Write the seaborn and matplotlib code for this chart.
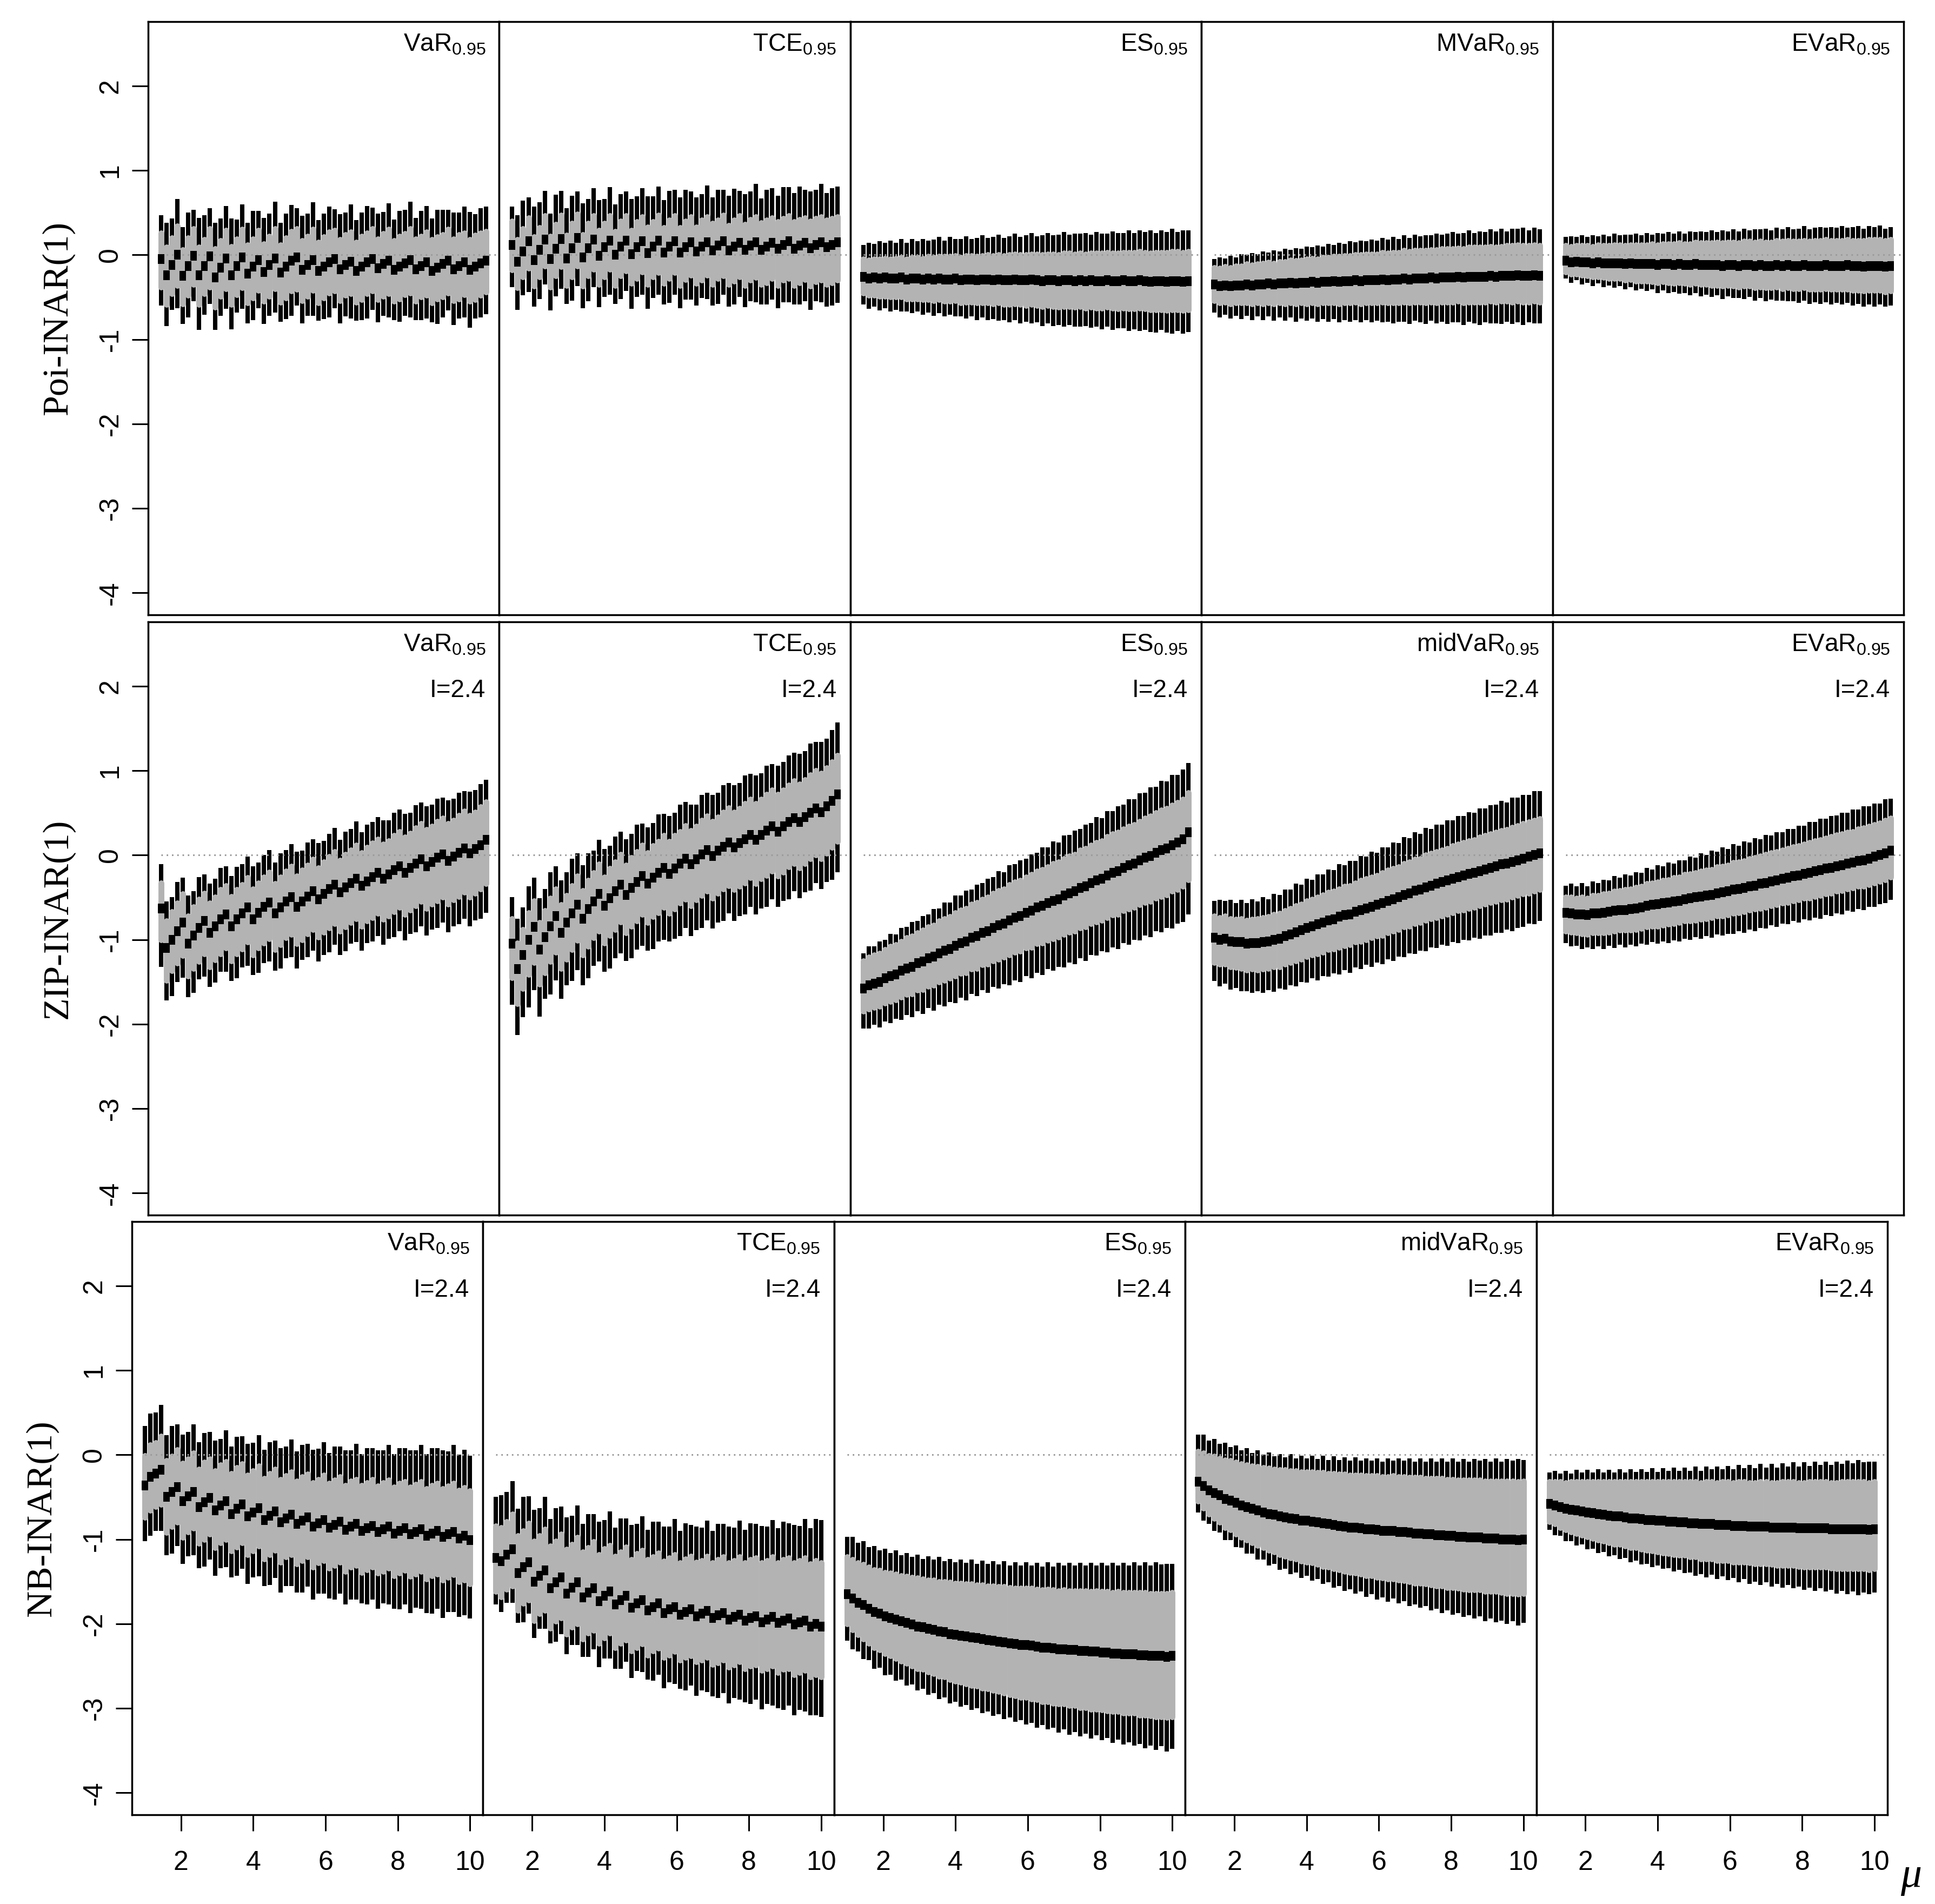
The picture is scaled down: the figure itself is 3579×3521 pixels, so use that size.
import numpy as np
import seaborn as sns
import matplotlib
matplotlib.use("Agg")
from matplotlib import pyplot as plt

# grid of mu values (x axis of every panel)
MU = [1.00, 1.15, 1.30, 1.45, 1.60, 1.75, 1.90, 2.05, 2.20, 2.35,
      2.50, 2.65, 2.80, 2.95, 3.10, 3.25, 3.40, 3.55, 3.70, 3.85,
      4.00, 4.15, 4.30, 4.45, 4.60, 4.75, 4.90, 5.05, 5.20, 5.35,
      5.50, 5.65, 5.80, 5.95, 6.10, 6.25, 6.40, 6.55, 6.70, 6.85,
      7.00, 7.15, 7.30, 7.45, 7.60, 7.75, 7.90, 8.05, 8.20, 8.35,
      8.50, 8.65, 8.80, 8.95, 9.10, 9.25, 9.40, 9.55, 9.70, 9.85,
      10.00]

# all values in units of 0.01
# *_med: median; *_bu / *_bd: median to upper / lower box edge;
# *_wu / *_wd: median to upper / lower whisker end

# ---- Poi-INAR(1) ----
pv_med = [-5,-24,-12,0,-25,-13,-1,-24,-13,-2,-27,-15,-4,-24,-13,-3,-22,-14,-6,-20,-12,-4,-21,-14,-7,-3,-18,-12,-6,-19,-14,-9,-5,-17,-12,-8,-19,-14,-9,-5,-16,-11,-7,-18,-14,-10,-6,-17,-13,-9,-19,-15,-11,-7,-17,-13,-9,-18,-14,-10,-7]
pv_bu = [31,33,32,34,31,33,32,33,31,33,34,32,33,34,32,33,34,33,35,33,34,35,33,34,35,34,35,34,36,34,35,36,34,35,36,35,34,36,35,36,35,36,37,35,36,35,37,36,35,36,37,36,35,37,36,37,35,36,37,36,35]
pv_bd = [33,35,34,36,33,35,34,35,33,36,35,34,36,35,34,36,35,37,36,35,37,36,35,37,36,38,36,37,36,38,37,36,38,37,36,38,37,39,37,38,37,38,39,37,38,37,39,38,37,39,38,37,39,38,37,39,38,37,39,38,37]
pv_wu = [52,62,55,66,58,63,54,68,60,57,65,58,62,67,55,63,60,66,58,64,61,67,59,63,66,58,64,61,68,60,63,66,59,65,62,68,60,64,67,61,65,62,68,60,66,63,69,61,65,67,62,68,64,60,67,63,66,69,62,65,64]
pv_wd = [55,60,53,63,57,61,54,65,58,56,62,57,60,64,55,61,59,63,57,62,60,64,58,62,65,57,63,60,66,59,62,65,58,64,61,67,59,63,66,60,64,61,67,59,65,62,68,60,64,66,61,67,63,59,66,62,65,68,61,64,63]

pt_med = [12,-8,4,16,-6,6,18,-5,7,19,-4,8,20,-3,8,18,-1,9,17,0,10,17,1,9,16,2,10,17,3,10,16,3,9,15,4,10,15,5,11,16,5,10,14,6,11,15,6,10,14,7,12,16,7,11,14,8,12,15,9,12,15]
pt_bu = [28,26,27,28,27,26,28,27,29,28,27,29,28,27,29,28,30,28,29,28,30,29,28,30,29,31,29,30,29,31,30,29,31,30,29,31,30,32,30,31,30,31,32,30,31,30,32,31,30,32,31,30,32,31,30,32,31,30,32,31,30]
pt_bd = [30,31,30,32,31,32,31,33,32,33,32,34,33,34,33,35,34,35,34,36,35,36,35,37,36,37,36,38,37,38,37,39,38,39,38,40,39,40,39,41,40,41,40,42,41,42,41,43,42,43,42,44,43,44,43,45,44,45,44,45,45]
pt_wu = [45,55,60,52,63,56,58,54,64,57,59,62,55,64,58,61,66,57,63,60,62,58,65,60,63,67,59,64,62,66,61,65,68,60,64,62,67,63,66,61,65,68,62,66,64,69,61,67,65,63,68,64,66,70,63,67,65,69,64,67,66]
pt_wd = [50,57,52,60,55,58,53,61,56,59,54,62,57,60,63,56,61,59,64,58,62,60,65,59,63,66,61,64,62,67,63,66,62,68,64,61,67,65,69,63,66,69,64,68,66,71,65,69,67,70,68,72,66,70,69,73,67,71,70,72,72]

pe_med = [-26,-28,-27,-28,-27,-28,-28,-27,-29,-28,-28,-29,-28,-29,-28,-29,-29,-28,-30,-29,-29,-30,-29,-29,-30,-29,-30,-30,-29,-30,-30,-29,-30,-31,-30,-30,-31,-30,-30,-31,-30,-31,-30,-31,-31,-30,-31,-31,-30,-31,-31,-30,-31,-32,-31,-31,-32,-31,-31,-32,-31]
pe_bu = [21,22,22,23,23,23,24,24,24,25,25,25,26,26,26,27,27,27,27,28,28,28,28,29,29,29,29,30,30,30,30,30,31,31,31,31,31,32,32,32,32,32,32,33,33,33,33,33,33,34,34,34,34,34,34,34,35,35,35,35,35]
pe_bd = [19,20,21,21,22,22,22,23,23,24,24,24,25,25,25,26,26,26,27,27,27,27,28,28,28,28,29,29,29,29,30,30,30,30,30,31,31,31,31,31,31,32,32,32,32,32,32,33,33,33,33,33,33,33,34,34,34,34,34,34,34]
pe_wu = [38,42,40,44,41,45,42,46,43,47,44,48,45,47,49,46,50,47,49,51,48,50,52,49,51,53,50,52,54,51,53,55,52,54,56,53,55,57,54,56,55,57,54,58,56,55,59,57,56,60,57,59,58,61,57,60,59,62,58,61,60]
pe_wd = [33,36,34,38,36,39,37,40,38,41,39,42,40,43,41,44,42,45,43,46,44,47,45,48,46,49,47,50,48,51,49,52,50,53,51,54,52,55,53,54,55,53,56,54,57,55,58,56,57,59,57,60,58,59,61,58,60,62,59,61,60]

pm_med = [-35,-37,-36,-37,-36,-36,-35,-36,-35,-35,-34,-35,-34,-34,-33,-34,-33,-33,-32,-33,-32,-32,-31,-32,-31,-31,-30,-31,-30,-30,-30,-29,-30,-29,-29,-28,-29,-28,-28,-28,-27,-28,-27,-27,-27,-26,-27,-26,-26,-26,-26,-25,-26,-25,-25,-25,-24,-25,-25,-24,-25]
pm_bu = [20,21,22,22,23,23,24,24,24,25,25,25,26,26,27,27,27,28,28,28,29,29,29,30,30,30,30,31,31,31,31,32,32,32,32,33,33,33,33,33,33,34,34,34,34,34,34,35,35,35,35,35,35,35,36,36,36,36,36,36,36]
pm_bd = [19,20,20,21,21,21,22,22,22,23,23,23,23,24,24,24,24,25,25,25,25,25,26,26,26,26,26,27,27,27,27,27,27,28,28,28,28,28,28,29,29,29,29,29,29,29,30,30,30,30,30,30,30,30,30,31,31,31,31,31,31]
pm_wu = [30,34,32,36,33,37,35,38,36,39,37,40,38,41,39,42,40,43,41,44,42,45,43,46,44,47,45,48,46,48,47,49,48,50,48,51,49,52,50,51,50,53,51,52,54,51,53,55,52,54,53,55,54,56,53,56,55,57,54,56,55]
pm_wd = [33,37,35,38,36,40,37,41,38,42,39,43,40,44,41,45,42,45,43,46,44,47,45,48,46,48,47,49,47,50,48,51,49,52,50,51,53,50,52,54,51,53,52,55,53,54,56,53,55,57,54,56,55,57,54,57,56,58,55,57,56]

pev_med = [-7,-9,-8,-9,-9,-10,-9,-10,-10,-10,-10,-11,-10,-11,-11,-11,-11,-12,-11,-11,-12,-11,-12,-12,-11,-12,-12,-12,-12,-13,-12,-12,-13,-12,-12,-13,-12,-13,-13,-12,-13,-12,-13,-13,-12,-13,-13,-13,-12,-13,-13,-13,-12,-13,-13,-14,-13,-13,-13,-14,-13]
pev_bu = [18,19,19,20,20,20,21,21,21,22,22,22,22,23,23,23,24,24,24,24,25,25,25,25,26,26,26,26,27,27,27,27,27,28,28,28,28,28,28,29,29,29,29,29,29,29,30,30,30,30,30,30,30,30,30,31,31,31,31,31,31]
pev_bd = [13,14,15,15,16,16,17,17,18,18,18,19,19,20,20,20,21,21,21,22,22,22,22,23,23,23,23,24,24,24,24,25,25,25,25,26,26,26,26,26,27,27,27,27,27,28,28,28,28,28,28,28,29,29,29,29,29,29,29,30,30]
pev_wu = [28,31,29,32,30,33,31,34,32,35,33,35,34,36,34,37,35,38,36,38,37,39,37,40,38,40,39,41,39,42,40,42,41,43,41,43,42,44,42,44,43,45,43,44,46,43,45,46,44,46,45,47,44,46,47,45,47,46,48,45,46]
pev_wd = [21,24,22,26,24,27,25,28,26,29,27,30,28,31,29,32,30,33,31,34,32,35,33,36,34,37,35,38,36,39,37,39,38,40,38,41,39,42,40,42,41,43,42,44,42,45,43,45,44,46,44,46,45,47,45,47,46,48,46,47,47]

# ---- ZIP-INAR(1) ----
zv_med = [-63,-110,-100,-90,-80,-105,-95,-86,-78,-92,-84,-76,-70,-84,-76,-69,-62,-76,-68,-61,-56,-69,-62,-55,-50,-61,-55,-49,-43,-52,-46,-40,-35,-44,-38,-33,-28,-36,-31,-26,-21,-28,-23,-18,-13,-21,-15,-10,-5,-13,-8,-3,1,-7,-2,3,8,2,7,12,18]
zv_bu = [30,32,33,33,34,33,34,34,33,35,34,35,34,35,35,34,35,36,35,35,36,35,36,36,37,36,37,37,38,37,38,38,39,38,39,39,40,39,40,40,40,41,40,41,41,42,41,42,42,43,42,43,43,44,43,44,44,45,44,45,45]
zv_bd = [37,38,37,38,39,38,39,40,39,40,40,41,40,41,41,42,41,42,42,43,43,43,44,43,44,44,45,44,45,45,45,46,46,46,47,47,47,48,47,48,48,48,49,49,49,49,50,50,50,50,50,51,51,51,51,52,52,52,52,52,52]
zv_wu = [52,55,50,58,53,57,52,60,55,58,56,61,57,59,62,58,60,63,59,61,62,60,64,61,63,65,60,64,62,66,63,65,67,62,66,64,68,63,67,65,66,69,64,68,67,70,65,69,67,71,68,70,67,72,69,71,68,73,70,72,71]
zv_wd = [69,62,67,60,65,63,68,61,66,64,67,62,68,65,70,64,69,66,71,67,70,68,72,67,71,73,69,72,70,74,72,75,71,74,76,72,75,77,73,76,75,78,76,79,77,80,78,81,79,82,80,83,81,84,82,85,83,86,84,87,86]

zt_med = [-105,-135,-118,-100,-85,-112,-97,-84,-72,-92,-80,-69,-59,-75,-64,-55,-46,-60,-51,-43,-35,-47,-39,-32,-25,-34,-27,-21,-15,-22,-16,-10,-4,-11,-5,1,6,-1,5,10,15,9,14,19,24,18,24,29,34,28,34,39,44,39,45,50,55,51,58,64,72]
zt_bu = [30,31,30,32,31,32,31,33,32,33,32,33,34,33,34,34,35,34,35,35,36,35,36,36,37,37,38,37,38,38,39,38,39,40,39,40,40,41,40,41,41,42,41,42,42,43,42,43,43,44,43,44,44,45,44,45,45,46,45,46,46]
zt_bd = [40,41,40,41,42,41,42,42,43,42,43,43,42,43,44,43,44,44,44,45,44,45,45,46,45,46,46,47,47,47,48,47,48,49,48,49,49,50,50,50,51,50,51,52,51,52,52,53,53,53,54,53,54,54,55,54,55,55,56,55,56]
zt_wu = [55,60,56,63,58,61,57,64,59,62,60,65,61,63,66,60,64,67,62,65,63,66,64,68,62,67,65,69,64,68,66,70,67,71,65,70,68,72,69,73,70,74,71,75,72,76,73,77,74,78,76,79,77,81,78,82,79,83,80,84,85]
zt_wd = [72,78,74,80,75,79,73,81,76,78,74,80,77,79,82,76,80,78,83,79,81,78,83,80,82,79,84,81,85,80,83,86,82,85,84,87,83,86,85,88,84,87,86,89,85,88,87,90,86,89,88,91,87,90,89,92,88,91,90,93,92]

ze_med = [-158,-154,-152,-150,-146,-143,-141,-137,-134,-132,-128,-126,-122,-120,-116,-113,-111,-107,-104,-102,-98,-96,-92,-90,-86,-83,-81,-77,-74,-72,-68,-66,-62,-60,-57,-54,-52,-48,-45,-43,-39,-37,-33,-30,-28,-24,-21,-19,-15,-12,-10,-6,-3,-1,3,6,8,12,15,19,27]
ze_bu = [33,33,34,34,34,35,35,35,36,36,36,37,37,37,38,38,38,39,39,39,40,40,40,40,41,41,41,42,42,42,42,43,43,43,43,44,44,44,44,44,45,45,45,45,45,46,46,46,46,46,46,46,47,47,47,47,47,47,47,47,47]
ze_bd = [27,28,28,29,29,30,30,31,31,32,32,33,33,34,34,35,35,36,36,37,37,38,38,39,39,40,40,41,41,42,42,43,43,44,44,45,45,46,46,47,47,48,48,49,49,50,50,51,51,52,52,53,53,54,54,55,55,55,56,56,56]
ze_wu = [42,46,44,48,46,50,47,51,49,53,50,54,52,56,53,57,55,59,56,60,57,61,59,62,60,64,61,65,63,66,64,67,65,69,66,70,67,71,69,72,70,73,71,75,72,76,73,77,75,78,76,79,77,81,78,82,79,83,80,82,82]
ze_wd = [47,51,49,54,51,56,53,58,55,60,57,62,59,64,61,66,63,68,65,70,66,71,68,73,70,75,72,77,74,78,75,80,77,82,78,83,80,85,82,86,83,88,85,89,86,91,88,92,89,94,90,95,92,96,93,97,94,99,96,98,97]

zm_med = [-98,-100,-99,-102,-103,-103,-105,-104,-104,-103,-102,-100,-99,-96,-94,-91,-89,-86,-84,-82,-80,-77,-76,-73,-71,-70,-67,-65,-63,-61,-59,-57,-54,-52,-50,-47,-45,-42,-41,-38,-36,-34,-32,-30,-28,-26,-24,-22,-21,-19,-17,-15,-13,-11,-10,-8,-6,-4,-2,0,2]
zm_bu = [26,26,27,27,27,28,28,28,29,29,29,30,30,30,31,31,31,32,32,32,33,33,33,33,34,34,34,35,35,35,35,36,36,36,36,37,37,37,37,38,38,38,38,38,39,39,39,39,39,40,40,40,40,40,40,41,41,41,41,41,41]
zm_bd = [29,29,30,30,30,31,31,31,32,32,32,32,33,33,33,34,34,34,34,35,35,35,35,36,36,36,36,37,37,37,37,38,38,38,38,38,39,39,39,39,39,40,40,40,40,40,41,41,41,41,41,41,42,42,42,42,42,42,43,43,43]
zm_wu = [44,47,45,49,46,50,48,52,49,53,50,54,52,55,53,57,54,58,55,59,57,60,58,62,59,63,60,64,61,65,62,66,63,67,64,68,65,69,66,70,67,70,68,71,69,72,70,73,71,74,72,74,73,75,72,76,74,75,73,76,74]
zm_wd = [51,55,53,57,54,58,56,59,57,60,58,62,59,63,60,64,61,65,62,66,63,67,64,68,65,69,66,70,67,71,68,72,69,73,70,74,71,75,72,76,73,76,74,77,75,78,76,79,77,80,78,80,79,81,78,82,80,81,79,82,80]

zev_med = [-68,-69,-70,-70,-71,-69,-69,-68,-67,-66,-65,-65,-64,-63,-62,-60,-59,-58,-57,-56,-55,-54,-52,-51,-50,-49,-48,-47,-45,-44,-43,-41,-40,-39,-37,-36,-34,-33,-31,-30,-28,-27,-25,-24,-22,-21,-19,-18,-16,-15,-13,-12,-10,-9,-7,-6,-4,-2,0,2,5]
zev_bu = [18,19,19,20,20,21,21,22,22,23,23,24,24,25,25,26,26,26,27,27,28,28,29,29,29,30,30,30,31,31,31,32,32,32,33,33,33,34,34,34,34,35,35,35,35,36,36,36,36,37,37,37,37,37,38,38,38,38,38,39,39]
zev_bd = [22,22,22,23,23,23,23,24,24,24,24,24,25,25,25,25,25,26,26,26,26,26,26,27,27,27,27,27,27,28,28,28,28,28,28,28,29,29,29,29,29,29,29,29,29,30,30,30,30,30,30,30,30,30,30,31,31,31,31,31,31]
zev_wu = [32,35,33,37,34,38,36,39,37,41,38,42,40,43,41,45,42,46,44,47,45,48,46,49,47,51,48,52,49,53,50,54,51,55,52,56,53,57,54,57,55,58,56,59,57,60,58,61,59,61,60,62,60,63,61,64,62,63,61,64,62]
zev_wd = [36,39,37,41,38,42,39,43,40,44,41,44,42,45,43,46,44,47,45,48,46,48,47,49,47,50,48,51,49,51,50,52,50,53,51,54,52,54,52,55,53,55,53,56,54,56,55,57,55,57,56,58,56,58,57,59,57,59,58,59,58]

# ---- NB-INAR(1) ----
nv_med = [-36,-26,-22,-18,-50,-44,-38,-55,-49,-44,-62,-56,-51,-66,-60,-55,-70,-64,-59,-73,-68,-63,-77,-72,-67,-80,-75,-71,-82,-78,-74,-85,-81,-77,-86,-83,-79,-89,-85,-82,-90,-87,-84,-91,-88,-85,-93,-90,-87,-94,-91,-88,-96,-93,-90,-97,-94,-91,-99,-96,-101]
nv_bu = [35,38,36,40,43,42,44,45,44,46,45,47,46,47,48,47,48,49,48,49,49,50,49,50,50,51,50,51,51,52,51,52,52,53,52,53,53,53,54,53,54,54,55,54,55,55,55,56,55,56,56,56,56,57,56,57,57,57,57,57,58]
nv_bd = [38,40,39,41,42,41,42,43,42,43,43,44,43,44,44,45,44,45,45,45,46,45,46,46,46,47,46,47,47,47,47,48,47,48,48,48,48,49,48,49,49,49,49,49,50,49,50,50,50,50,50,50,51,50,51,51,51,51,51,52,52]
nv_wu = [70,75,72,77,73,78,74,79,76,80,77,82,78,83,79,84,80,85,81,86,82,86,83,87,84,88,85,89,86,90,87,91,88,92,88,93,89,94,90,95,91,95,92,96,93,97,94,98,95,99,96,100,97,101,98,102,98,103,99,102,100]
nv_wd = [66,70,68,72,69,73,70,74,71,75,72,76,73,77,74,78,75,79,76,80,77,81,78,82,79,83,80,84,81,85,82,86,83,87,84,88,85,88,86,89,86,90,87,91,88,92,89,93,90,93,90,94,91,95,92,96,92,95,93,94,93]

nt_med = [-122,-126,-118,-112,-140,-133,-127,-150,-143,-137,-158,-151,-145,-164,-157,-151,-169,-163,-158,-173,-167,-162,-177,-172,-167,-181,-176,-172,-184,-180,-176,-187,-183,-180,-189,-186,-183,-191,-188,-185,-193,-190,-187,-195,-192,-189,-196,-193,-191,-198,-195,-192,-199,-196,-194,-201,-198,-196,-203,-200,-203]
nt_bu = [38,40,39,42,44,43,46,48,47,49,50,49,51,52,51,53,54,53,55,55,56,55,57,57,58,57,59,59,60,59,60,61,61,62,61,63,63,64,63,65,65,66,66,67,67,68,68,69,69,70,70,71,71,72,72,73,73,74,74,75,75]
nt_bd = [40,42,41,43,44,43,45,46,45,47,47,46,48,48,47,49,49,48,50,50,50,49,51,51,52,51,52,52,53,52,53,53,54,53,54,54,55,54,55,55,55,56,56,56,57,56,57,57,58,57,58,58,59,58,59,59,60,59,60,60,60]
nt_wu = [72,78,74,81,76,83,78,85,80,87,82,88,84,90,85,91,87,93,88,94,90,95,91,97,92,98,94,99,95,101,97,102,98,104,99,105,100,106,102,107,103,108,105,110,106,111,107,112,109,114,110,115,112,117,113,118,114,120,116,124,126]
nt_wd = [55,60,57,63,59,65,61,67,63,69,65,70,67,72,68,74,70,76,72,78,74,79,76,81,78,83,80,85,82,87,84,89,86,91,88,93,90,94,91,96,93,98,95,99,96,101,97,102,99,103,100,105,101,106,103,107,104,108,105,108,107]

ne_med = [-165,-170,-175,-178,-182,-186,-188,-191,-193,-195,-197,-199,-201,-203,-204,-206,-207,-209,-210,-212,-213,-214,-215,-216,-217,-218,-219,-220,-221,-222,-223,-224,-225,-225,-226,-227,-228,-228,-229,-230,-230,-231,-231,-232,-232,-233,-233,-234,-234,-235,-235,-236,-236,-236,-237,-237,-238,-238,-238,-239,-238]
ne_bu = [44,46,47,48,49,50,51,52,53,54,54,55,56,57,57,58,59,59,60,61,61,62,62,63,63,64,64,65,65,66,66,66,67,67,68,68,68,69,69,69,70,70,70,71,71,71,72,72,72,72,73,73,73,73,74,74,74,74,74,75,75]
ne_bd = [35,37,38,40,41,42,43,44,45,46,47,48,49,50,50,51,52,53,53,54,55,55,56,57,57,58,58,59,59,60,61,61,62,62,63,63,64,64,65,65,65,66,66,67,67,68,68,68,69,69,69,70,70,70,71,71,71,72,72,72,72]
ne_wu = [68,73,71,76,73,78,75,80,77,82,78,83,80,85,81,86,83,88,84,89,86,90,87,92,88,93,90,94,91,96,92,97,94,98,95,99,96,101,97,102,99,103,100,104,101,105,102,106,103,107,104,108,105,109,106,110,107,111,108,110,109]
ne_wd = [55,60,58,64,61,67,64,70,67,72,69,74,71,76,73,78,75,80,77,82,79,84,81,86,83,88,85,89,86,91,88,92,89,94,91,96,92,97,94,99,95,100,97,101,98,103,99,104,101,106,102,107,104,108,105,110,106,111,107,112,110]

nm_med = [-32,-37,-42,-45,-48,-52,-54,-57,-60,-62,-64,-66,-68,-70,-71,-73,-74,-75,-76,-78,-78,-79,-80,-81,-82,-83,-84,-85,-86,-86,-87,-88,-88,-89,-90,-90,-90,-91,-91,-92,-93,-93,-94,-94,-95,-95,-96,-96,-97,-97,-98,-98,-98,-99,-99,-99,-100,-100,-100,-101,-100]
nm_bu = [36,39,41,43,44,46,47,48,49,50,51,52,53,54,54,55,56,56,57,58,58,59,59,60,60,61,61,62,62,62,63,63,63,64,64,64,65,65,65,65,66,66,66,66,67,67,67,67,67,67,68,68,68,68,68,68,69,69,69,69,69]
nm_bd = [23,26,28,30,32,34,35,37,38,39,40,41,42,43,44,45,46,47,47,48,49,49,50,51,51,52,52,53,53,54,54,55,55,56,56,57,57,57,58,58,59,59,59,60,60,60,61,61,61,62,62,62,62,63,63,63,63,64,64,64,64]
nm_wu = [56,61,59,64,61,66,63,68,65,70,66,71,68,73,69,74,71,76,72,77,74,78,75,80,76,81,78,82,79,83,80,84,81,85,82,86,83,87,84,88,85,89,86,90,87,91,88,92,89,92,90,93,91,94,91,95,92,95,93,96,94]
nm_wd = [36,41,40,45,44,49,47,52,50,55,53,58,56,61,58,63,61,66,63,68,65,70,67,72,69,74,71,76,73,78,75,80,77,82,79,84,80,85,82,87,84,88,85,90,87,92,88,93,90,95,92,96,93,98,95,99,96,100,97,101,99]

nev_med = [-58,-60,-62,-64,-65,-66,-67,-68,-69,-70,-71,-72,-73,-73,-74,-75,-75,-76,-77,-77,-78,-78,-79,-79,-80,-80,-81,-81,-82,-82,-82,-83,-83,-83,-84,-84,-84,-85,-85,-85,-85,-86,-86,-86,-86,-86,-87,-87,-87,-87,-87,-87,-88,-88,-88,-88,-88,-88,-88,-89,-88]
nev_bu = [26,28,30,31,33,34,35,36,37,38,39,40,41,41,42,43,43,44,45,45,46,46,47,47,48,48,49,49,49,50,50,50,51,51,51,52,52,52,52,53,53,53,53,54,54,54,54,54,55,55,55,55,55,55,56,56,56,56,56,56,56]
nev_bd = [21,22,24,25,26,27,28,29,30,31,31,32,33,33,34,35,35,36,36,37,37,38,38,39,39,39,40,40,41,41,41,42,42,42,43,43,43,43,44,44,44,44,45,45,45,45,45,46,46,46,46,46,46,47,47,47,47,47,47,47,47]
nev_wu = [37,41,40,45,43,48,46,50,48,53,50,54,52,56,53,58,55,59,57,61,58,62,60,64,61,65,62,67,63,68,65,69,66,70,67,72,68,73,69,74,70,75,71,76,72,77,73,78,74,79,75,79,76,80,77,81,78,82,79,81,80]
nev_wd = [31,35,34,38,37,41,39,44,42,46,44,48,46,50,48,52,50,54,52,56,53,57,55,59,56,60,58,62,59,63,60,64,61,65,62,67,63,68,65,69,66,70,67,71,68,72,69,73,70,74,71,75,72,76,73,77,74,78,75,76,75]

ROW_NAMES = ["Poi-INAR(1)", "ZIP-INAR(1)", "NB-INAR(1)"]
MEASURES = [["VaR", "TCE", "ES", "MVaR", "EVaR"],
            ["VaR", "TCE", "ES", "midVaR", "EVaR"],
            ["VaR", "TCE", "ES", "midVaR", "EVaR"]]
ROW_NOTE = [None, "I=2.4", "I=2.4"]
YTICKS = [-4, -3, -2, -1, 0, 1, 2]
XTICKS = [2, 4, 6, 8, 10]

PANELS = [
    [(pv_med, pv_bu, pv_bd, pv_wu, pv_wd), (pt_med, pt_bu, pt_bd, pt_wu, pt_wd),
     (pe_med, pe_bu, pe_bd, pe_wu, pe_wd), (pm_med, pm_bu, pm_bd, pm_wu, pm_wd),
     (pev_med, pev_bu, pev_bd, pev_wu, pev_wd)],
    [(zv_med, zv_bu, zv_bd, zv_wu, zv_wd), (zt_med, zt_bu, zt_bd, zt_wu, zt_wd),
     (ze_med, ze_bu, ze_bd, ze_wu, ze_wd), (zm_med, zm_bu, zm_bd, zm_wu, zm_wd),
     (zev_med, zev_bu, zev_bd, zev_wu, zev_wd)],
    [(nv_med, nv_bu, nv_bd, nv_wu, nv_wd), (nt_med, nt_bu, nt_bd, nt_wu, nt_wd),
     (ne_med, ne_bu, ne_bd, ne_wu, ne_wd), (nm_med, nm_bu, nm_bd, nm_wu, nm_wd),
     (nev_med, nev_bu, nev_bd, nev_wu, nev_wd)],
]

sns.set_style("ticks", {"axes.edgecolor": "black", "xtick.color": "black",
                        "ytick.color": "black", "text.color": "black"})
plt.rcParams["font.family"] = ["Liberation Sans", "DejaVu Sans"]

W, H = 3580, 3521
fig = plt.figure(figsize=(W / 100, H / 100), dpi=100)

# layout in pixels
row_top = [40, 1150, 2259]
row_h = 1097
panel_w = 649.4
row_left = [274, 274, 244]

MED_MARK = [(-1, -1.4), (1, -1.4), (1, 1.4), (-1, 1.4)]


def draw_panel(ax, data):
    med, bu, bd, wu, wd = [np.asarray(a, dtype=float) / 100 for a in data]
    n = min(len(MU), len(med), len(bu), len(bd), len(wu), len(wd))
    x = np.asarray(MU[:n])
    med, bu, bd, wu, wd = med[:n], bu[:n], bd[:n], wu[:n], wd[:n]
    ax.vlines(x, med - wd, med + wu, color="black", lw=5.8, zorder=2)
    box = ax.vlines(x, med - bd, med + bu, color="#B3B3B3", lw=7.9, zorder=3)
    box.set_capstyle("round")
    ax.plot([1, 10.36], [0, 0], color="#9a9a9a", lw=2.2, dashes=(0.9, 2.3), zorder=4)
    sns.scatterplot(x=x, y=med, marker=MED_MARK, s=168, color="black",
                    linewidth=0, ax=ax, zorder=5, legend=False)


for r in range(3):
    for c in range(5):
        left = row_left[r] + c * panel_w
        ax = fig.add_axes([left / W, 1 - (row_top[r] + row_h) / H, panel_w / W, row_h / H])
        draw_panel(ax, PANELS[r][c])
        ax.set_xlim(0.64, 10.36)
        ax.set_ylim(-4.26, 2.76)
        for sp in ax.spines.values():
            sp.set_linewidth(2.5)
            sp.set_color("black")
        if c == 0:
            ax.set_yticks(YTICKS)
            ax.set_yticklabels([str(v) for v in YTICKS], rotation=90, va="center")
            ax.tick_params(axis="y", length=21.6, width=2.2, labelsize=36, pad=12)
            ax.text(-167 / panel_w, 0.5, ROW_NAMES[r], transform=ax.transAxes,
                    rotation=90, ha="center", va="center", fontsize=49,
                    family=["Liberation Serif", "DejaVu Serif"])
        else:
            ax.set_yticks([])
        if r == 2:
            ax.set_xticks(XTICKS)
            ax.set_xticklabels([str(v) for v in XTICKS])
            ax.tick_params(axis="x", length=21.6, width=2.2, labelsize=36, pad=26)
        else:
            ax.set_xticks([])
        ax.text(1 - 25 / panel_w, 1 - 54 / row_h,
                MEASURES[r][c] + r"$_{\mathregular{0.95}}$",
                transform=ax.transAxes, ha="right", va="baseline", fontsize=33)
        if ROW_NOTE[r]:
            ax.text(1 - 25 / panel_w, 1 - 139 / row_h, ROW_NOTE[r],
                    transform=ax.transAxes, ha="right", va="baseline", fontsize=33)
        ax.set_xlabel("")
        ax.set_ylabel("")

fig.text(3535 / W, 1 - 3470 / H, "μ", fontsize=56, style="italic",
         family=["Liberation Serif", "DejaVu Serif"], ha="center", va="center")

fig.savefig("out.png", dpi=100)
